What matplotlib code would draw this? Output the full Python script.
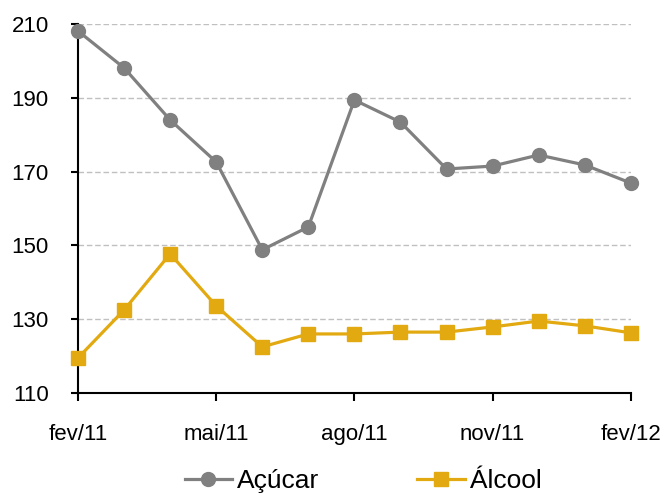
import matplotlib
matplotlib.use("Agg")
import matplotlib.pyplot as plt

# data
months = ["fev/11", "mar/11", "abr/11", "mai/11", "jun/11", "jul/11", "ago/11",
          "set/11", "out/11", "nov/11", "dez/11", "jan/12", "fev/12"]
acucar = [208.1, 198.1, 184.0, 172.6, 148.8, 155.0, 189.4, 183.4, 170.7, 171.5, 174.5, 171.8, 166.9]
alcool = [119.5, 132.5, 147.7, 133.6, 122.5, 126.0, 126.0, 126.5, 126.5, 127.9, 129.5, 128.2, 126.3]
yticks = [110, 130, 150, 170, 190, 210]

plt.rcParams['font.family'] = ['Liberation Sans', 'DejaVu Sans']

fig = plt.figure(figsize=(6.64, 4.96), dpi=100)
ax = fig.add_axes([0.1175, 0.2077, 0.8325, 0.7439])

x = list(range(len(months)))
ax.plot(x, acucar, color="#808080", lw=2.3, marker="o", ms=10, clip_on=False,
        zorder=3, label="Açúcar")
ax.plot(x, alcool, color="#E2AA10", lw=2.3, marker="s", ms=10, clip_on=False,
        zorder=3, label="Álcool")

ax.set_xlim(0, 12)
ax.set_ylim(110, 210)
ax.set_yticks(yticks)
ax.set_xticks(x[::3])
ax.set_xticklabels(months[::3])

for y in yticks[1:]:
    ax.axhline(y, color="#c0c0c0", lw=1, ls=(0, (4, 2)), zorder=1)

for s in ["top", "right"]:
    ax.spines[s].set_visible(False)
for s in ["left", "bottom"]:
    ax.spines[s].set_linewidth(1.5)
ax.tick_params(axis="y", length=5, width=1.5, labelsize=16, pad=16)
ax.tick_params(axis="x", length=6, width=1.5, labelsize=16, pad=16)

fig.legend(loc="center", bbox_to_anchor=(0.547, 0.03), ncol=2, frameon=False,
           fontsize=19, columnspacing=3.7, handlelength=1.8, handletextpad=0.2)

fig.savefig("out.png", dpi=100)
